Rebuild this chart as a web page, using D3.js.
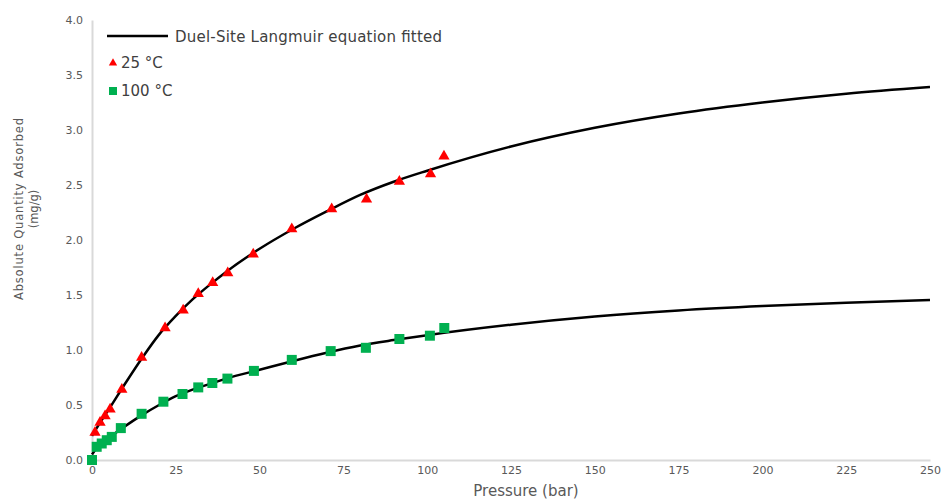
<!DOCTYPE html>
<html lang="en">
<head>
  <meta charset="UTF-8">
  <title>Adsorption isotherms</title>
  <style>
    body { margin: 0; background: #fff; }
    svg text { font-family: "DejaVu Sans", Verdana, sans-serif; }
    .tick text { fill: #595959; font-size: 11px; }
  </style>
</head>
<body>
  <div id="chart"></div>

  <script src="https://d3js.org/d3.v7.min.js"></script>
  <script>
    // measured points, 25 °C
    const p25 = [0.9, 2.4, 3.9, 5.4, 8.9, 14.8, 21.8, 27.2, 31.7, 36.0, 40.5, 48.1, 59.6, 71.5, 81.9, 91.7, 101.0, 105.0];
    const q25 = [0.26, 0.35, 0.41, 0.47, 0.65, 0.94, 1.21, 1.37, 1.52, 1.62, 1.71, 1.88, 2.11, 2.29, 2.38, 2.54, 2.61, 2.77];

    // measured points, 100 °C
    const p100 = [0.0, 1.4, 2.9, 4.4, 5.9, 8.6, 14.8, 21.3, 27.0, 31.7, 35.9, 40.4, 48.3, 59.6, 71.2, 81.7, 91.7, 100.8, 105.1];
    const q100 = [0.0, 0.12, 0.15, 0.18, 0.21, 0.29, 0.42, 0.53, 0.60, 0.66, 0.70, 0.74, 0.81, 0.91, 0.99, 1.02, 1.10, 1.13, 1.20];

    // fitted curves
    const fitP = [0, 2, 5, 10, 15, 20, 25, 30, 35, 40, 50, 60, 70, 80, 90, 100, 125, 150, 175, 200, 225, 250];
    const fit25 = [0.22, 0.32, 0.46, 0.70, 0.93, 1.14, 1.31, 1.46, 1.59, 1.71, 1.92, 2.10, 2.26, 2.41, 2.53, 2.63, 2.85, 3.02, 3.15, 3.25, 3.33, 3.39];
    const fit100 = [0.05, 0.13, 0.20, 0.31, 0.41, 0.50, 0.58, 0.64, 0.69, 0.74, 0.82, 0.90, 0.975, 1.04, 1.09, 1.135, 1.23, 1.305, 1.36, 1.40, 1.43, 1.455];

    const xTicks = [0, 25, 50, 75, 100, 125, 150, 175, 200, 225, 250];
    const yTicks = [0, 0.5, 1.0, 1.5, 2.0, 2.5, 3.0, 3.5, 4.0];

    const width = 943, height = 499;
    const margin = { top: 20, right: 13, bottom: 39, left: 92 };

    const svg = d3.select("#chart").append("svg")
      .attr("width", width)
      .attr("height", height);

    const x = d3.scaleLinear().domain([0, 250]).range([margin.left, width - margin.right]);
    const y = d3.scaleLinear().domain([0, 4]).range([height - margin.bottom, margin.top]);

    // axes
    const xAxis = svg.append("g")
      .attr("transform", `translate(0,${y(0)})`)
      .call(d3.axisBottom(x).tickValues(xTicks).tickSize(0).tickPadding(6).tickFormat(d3.format("d")));
    xAxis.select(".domain").attr("stroke", "#d9d9d9").attr("stroke-width", 2);

    const yAxis = svg.append("g")
      .attr("transform", `translate(${x(0)},0)`)
      .call(d3.axisLeft(y).tickValues(yTicks).tickSize(0).tickPadding(9).tickFormat(d3.format(".1f")));
    yAxis.select(".domain").attr("stroke", "#d9d9d9").attr("stroke-width", 2);

    // axis titles
    svg.append("text")
      .attr("x", (x(0) + x(250)) / 2 + 15)
      .attr("y", 496)
      .attr("text-anchor", "middle")
      .attr("fill", "#595959")
      .style("font-size", "15px")
      .text("Pressure (bar)");

    const yt = svg.append("text")
      .attr("transform", `translate(23,209) rotate(-90)`)
      .attr("text-anchor", "middle")
      .attr("fill", "#595959")
      .style("font-size", "11.5px");
    yt.append("tspan").attr("x", 0).attr("dy", 0).attr("textLength", 182).text("Absolute Quantity Adsorbed");
    yt.append("tspan").attr("x", 0).attr("dy", 15).text("(mg/g)");

    // fitted lines
    const line = d3.line().curve(d3.curveMonotoneX);
    [fit25, fit100].forEach(q => {
      svg.append("path")
        .attr("d", line(fitP.map((p, i) => [x(p), y(q[i])])))
        .attr("fill", "none")
        .attr("stroke", "#000")
        .attr("stroke-width", 2.5);
    });

    // markers
    const tri = d3.symbol().type(d3.symbolTriangle).size(55);
    svg.append("g").selectAll("path")
      .data(p25.map((p, i) => [p, q25[i]]))
      .join("path")
      .attr("d", tri)
      .attr("transform", d => `translate(${x(d[0])},${y(d[1]) + 1})`)
      .attr("fill", "#ff0000");

    const sq = 10;
    svg.append("g").selectAll("rect")
      .data(p100.map((p, i) => [p, q100[i]]))
      .join("rect")
      .attr("x", d => x(d[0]) - sq / 2)
      .attr("y", d => y(d[1]) - sq / 2)
      .attr("width", sq)
      .attr("height", sq)
      .attr("fill", "#00b050");

    // legend
    const lg = svg.append("g").attr("transform", "translate(107,36)");
    lg.append("line").attr("x1", 0).attr("x2", 61).attr("y1", 0).attr("y2", 0)
      .attr("stroke", "#000").attr("stroke-width", 2.5);
    lg.append("text").attr("x", 68).attr("y", 6).attr("fill", "#404040")
      .style("font-size", "15px").attr("textLength", 267).text("Duel-Site Langmuir equation fitted");

    lg.append("path").attr("d", d3.symbol().type(d3.symbolTriangle).size(30))
      .attr("transform", "translate(6,27)").attr("fill", "#ff0000");
    lg.append("text").attr("x", 14).attr("y", 32).attr("fill", "#404040")
      .style("font-size", "15px").text("25 °C");

    lg.append("rect").attr("x", 2).attr("y", 51).attr("width", 8).attr("height", 8)
      .attr("fill", "#00b050");
    lg.append("text").attr("x", 14).attr("y", 60).attr("fill", "#404040")
      .style("font-size", "15px").text("100 °C");
  </script>
</body>
</html>
